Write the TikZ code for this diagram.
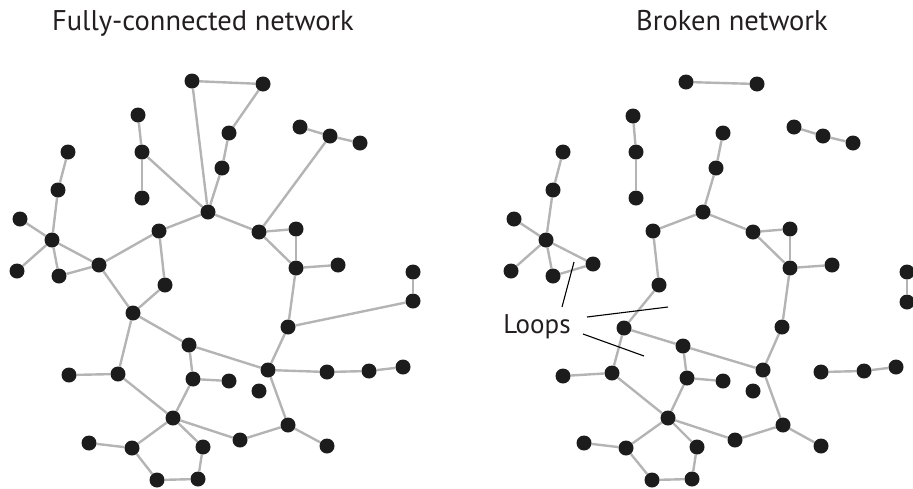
\documentclass[tikz,border=0pt]{standalone}
\usepackage{fontspec}
\setmainfont{PT Sans}
\usetikzlibrary{backgrounds}
\definecolor{edgegray}{HTML}{B4B4B4}
\definecolor{dotblack}{HTML}{1C1C1C}
\definecolor{txtgray}{HTML}{231F20}
\tikzset{
  dot/.style={circle,fill=dotblack,draw=none,inner sep=0pt,minimum size=15pt},
  link/.style={draw=edgegray,line width=2.4pt},
  pointer/.style={draw=black,line width=1.1pt},
  title/.style={font=\fontsize{28.5}{32}\selectfont,text=txtgray,inner sep=0pt,anchor=base},
  lbl/.style={font=\fontsize{27}{30}\selectfont,text=txtgray,inner sep=0pt}
}
\begin{document}
\begin{tikzpicture}[x=1pt,y=-1pt]
\useasboundingbox (0,0) rectangle (913,488);
% titles
\node[title] (t1) at (203,30) {Fully-connected network};
\node[title] (t2) at (732,30) {Broken network};
% left network nodes
\foreach \n/\x/\y in {a1/192/81,a2/263/84,a3/229/133,a4/222/168,h1/208/212,
  b1/138/115,b2/142/152,b3/142/198,c1/68/152,c2/58/190,c3/20/219,c4/52/240,
  c5/17/271,c6/59/276,c7/99/265,d1/159/231,d2/165/285,e1/259/232,e2/296/229,
  e3/296/268,e4/338/265,f1/300/127,f2/330/136,f3/360/143,g1/413/272,g2/413/301,
  g3/288/327,m1/133/313,m2/189/345,m3/268/370,m4/259/391,m5/327/372,m6/369/371,
  m7/403/367,n1/69/375,n2/118/374,n3/193/379,n4/229/381,n5/173/418,p1/288/425,
  p2/327/446,p3/240/440,q1/89/443,q2/132/448,q3/203/447,q4/157/480,q5/198/479}
  {\node[dot] (L\n) at (\x,\y) {};}
% right network nodes
\foreach \n/\x/\y in {a1/686/82,a2/757/84,a3/723/133,a4/716/168,h1/703/212,
  b1/633/116,b2/636/152,b3/636/198,c1/563/152,c2/553/190,c3/514/219,c4/546/240,
  c5/511/271,c6/553/276,c7/593/264,d1/653/231,d2/659/285,e1/753/232,e2/790/229,
  e3/790/268,e4/832/265,f1/794/127,f2/823/136,f3/853/143,g1/907/272,g2/907/302,
  g3/782/327,m1/624/328,m2/683/346,m3/763/370,m4/753/391,m5/821/372,m6/864/371,
  m7/896/367,n1/563/376,n2/612/373,n3/687/378,n4/723/381,n5/668/418,p1/783/425,
  p2/821/446,p3/735/440,q1/584/443,q2/626/448,q3/697/447,q4/652/480,q5/692/479}
  {\node[dot] (R\n) at (\x,\y) {};}
\begin{pgfonlayer}{background}
% left edges
\foreach \u/\v in {a1/a2,a1/h1,a2/a3,a3/a4,a4/h1,b1/b2,b2/b3,b2/h1,c1/c2,c2/c4,
  c3/c4,c5/c4,c4/c6,c4/c7,c6/c7,c7/d1,d1/h1,d1/d2,c7/m1,d2/m1,h1/e1,e1/e2,e1/f2,
  f1/f2,f2/f3,e1/e3,e2/e3,e3/e4,e3/g3,g1/g2,g3/g2,g3/m3,m1/m2,m1/n2,m2/m3,m2/n3,
  n3/n4,n3/n5,m3/m5,m5/m6,m6/m7,m3/p1,p1/p2,p1/p3,p3/n5,n1/n2,n2/n5,n5/q2,n5/q3,
  q1/q2,q2/q4,q4/q5,q5/q3}
  {\draw[link] (L\u) -- (L\v);}
% right edges
\foreach \u/\v in {a1/a2,a3/a4,a4/h1,b1/b2,b2/b3,c1/c2,c2/c4,c3/c4,c5/c4,c4/c6,
  c4/c7,c6/c7,h1/d1,d1/d2,h1/e1,e1/e2,e1/e3,e2/e3,e3/e4,e3/g3,f1/f2,f2/f3,g1/g2,
  g3/m3,d2/m1,m1/m2,m1/n2,m2/m3,m2/n3,n3/n4,n3/n5,m5/m6,m6/m7,m3/p1,p1/p2,p1/p3,
  p3/n5,n1/n2,n2/n5,n5/q2,n5/q3,q1/q2,q2/q4,q4/q5,q5/q3}
  {\draw[link] (R\u) -- (R\v);}
\end{pgfonlayer}
% loops label
\node[lbl,anchor=base] (loops) at (537,333) {Loops};
\coordinate (s1) at (562,307); \coordinate (e1) at (574,262);
\coordinate (s2) at (587,317); \coordinate (e2) at (668,307);
\coordinate (s3) at (583,334); \coordinate (e3) at (644,356);
\draw[pointer] (s1) -- (e1);
\draw[pointer] (s2) -- (e2);
\draw[pointer] (s3) -- (e3);
\end{tikzpicture}
\end{document}
